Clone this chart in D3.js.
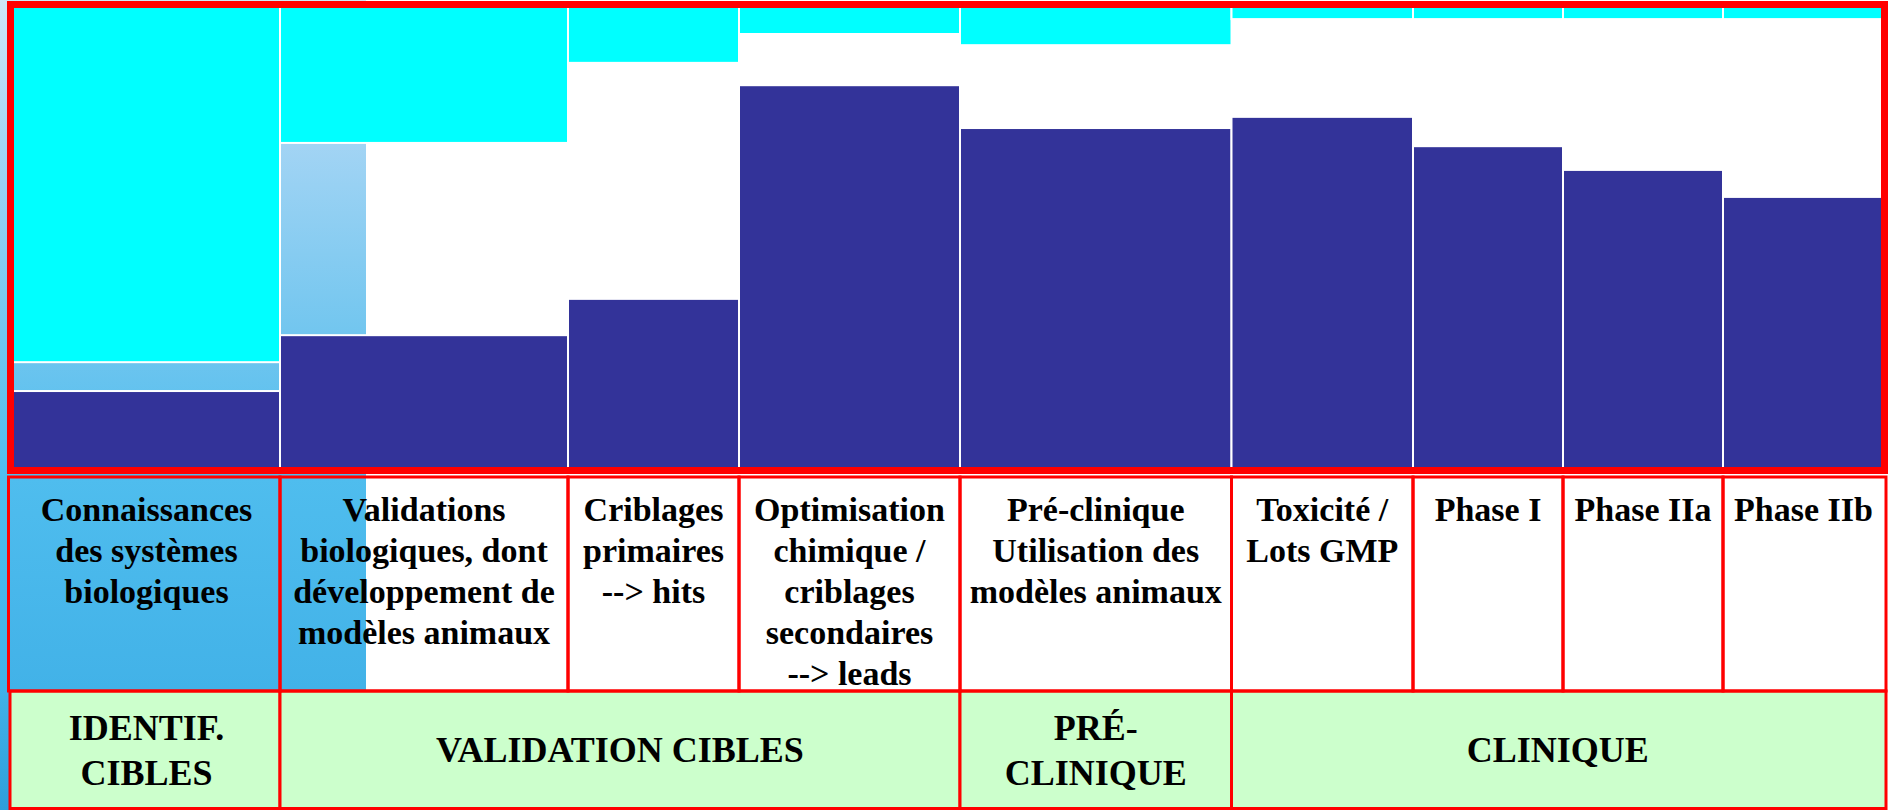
<!DOCTYPE html>
<html lang="fr">
<head>
<meta charset="utf-8">
<script src="https://cdn.jsdelivr.net/npm/d3@7"></script>
<style>
  body { margin: 0; background: #fff; }
  svg { display: block; }
  text { font-family: "Liberation Serif", "Times New Roman", serif; font-weight: bold; fill: #000; }
</style>
</head>
<body>
<script>
// Étapes du développement (libellés découpés en lignes comme sur la diapo)
const etapes = [
    ["Connaissances", "des systèmes", "biologiques"],
    ["Validations", "biologiques, dont", "développement de", "modèles animaux"],
    ["Criblages", "primaires", "--> hits"],
    ["Optimisation", "chimique /", "criblages", "secondaires", "--> leads"],
    ["Pré-clinique", "Utilisation des", "modèles animaux"],
    ["Toxicité /", "Lots GMP"],
    ["Phase I"],
    ["Phase IIa"],
    ["Phase IIb"]
];

// Largeur relative de chaque étape
const durees = [267, 288, 171, 221, 271.5, 181.5, 150, 160, 161];

// Part du bas (bleu foncé) et part du haut (cyan), en % de la hauteur
const valeursBas = [17.5, 29.5, 37.3, 83.2, 74.0, 76.4, 70.1, 65.0, 59.2];
const valeursHaut = [76.3, 29.2, 12.0, 5.8, 8.2, 2.6, 2.6, 2.6, 2.6];

// Grandes phases et nombre d'étapes couvertes
const grandesPhases = [["IDENTIF.", "CIBLES"], ["VALIDATION CIBLES"], ["PRÉ-", "CLINIQUE"], ["CLINIQUE"]];
const grandesPhasesNb = [1, 3, 1, 4];

const W = 1888, H = 810;
const plot = {left: 13, right: 1884, top: 7, bottom: 472.5};
const rowLabels = {top: 477, bottom: 691};
const rowPhases = {top: 691, bottom: 808.5};

const svg = d3.select("body").append("svg")
    .attr("width", W)
    .attr("height", H);

// fond dégradé de la diapo (bande de gauche)
const defs = svg.append("defs");
const grad = defs.append("linearGradient")
    .attr("id", "fond").attr("x1", 0).attr("y1", 0).attr("x2", 0).attr("y2", 1);
[[0, "#cfe7f8"], [0.18, "#a2d4f4"], [0.41, "#72c6ef"], [0.59, "#4fbdee"], [0.85, "#42b2e8"], [1, "#2f9fdb"]]
    .forEach(s => grad.append("stop").attr("offset", s[0]).attr("stop-color", s[1]));

svg.append("rect")
    .attr("x", 0).attr("y", 0)
    .attr("width", 366).attr("height", H)
    .attr("fill", "url(#fond)");

// Échelles
const total = d3.sum(durees);
const x = d3.scaleLinear().domain([0, total]).range([plot.left, plot.right]);
const y = d3.scaleLinear().domain([0, 100]).range([plot.bottom, plot.top]);

const cumul = d3.cumsum(durees);
const data = etapes.map((lignes, i) => ({
    lignes,
    debut: i === 0 ? 0 : cumul[i - 1],
    fin: cumul[i],
    bas: valeursBas[i],
    haut: valeursHaut[i],
    i
}));

const bars = svg.append("g");

// partie basse (bleu foncé)
bars.selectAll("rect.bas")
    .data(data)
    .join("rect")
    .attr("class", "bas")
    .attr("x", d => x(d.debut))
    .attr("width", d => x(d.fin) - x(d.debut))
    .attr("y", d => y(d.bas))
    .attr("height", d => y(0) - y(d.bas))
    .attr("fill", "#333399")
    .attr("stroke", "#fff")
    .attr("stroke-width", 2);

// partie haute (cyan), accrochée en haut
bars.selectAll("rect.haut")
    .data(data)
    .join("rect")
    .attr("class", "haut")
    .attr("x", d => x(d.debut))
    .attr("width", d => x(d.fin) - x(d.debut))
    .attr("y", y(100))
    .attr("height", d => y(100 - d.haut) - y(100))
    .attr("fill", "#00ffff")
    .attr("stroke", "#fff")
    .attr("stroke-width", 2);

// cadre rouge du graphique
svg.append("rect")
    .attr("x", plot.left - 2.5).attr("y", plot.top - 2.5)
    .attr("width", plot.right - plot.left + 3).attr("height", plot.bottom - plot.top + 0.5)
    .attr("fill", "none")
    .attr("stroke", "#ff0000")
    .attr("stroke-width", 7);

// bornes gauche/droite des lignes du tableau
const x0 = (d, i) => i === 0 ? 8.5 : x(d.debut);
const x1 = (d, i, n) => i === n - 1 ? 1886 : x(d.fin);

// Ligne des grandes phases (fond vert)
let acc = 0;
const phasesData = grandesPhases.map((lignes, k) => {
    const debut = acc === 0 ? 0 : cumul[acc - 1];
    acc += grandesPhasesNb[k];
    return {lignes, debut, fin: cumul[acc - 1]};
});

const gPhases = svg.append("g");
gPhases.selectAll("rect")
    .data(phasesData)
    .join("rect")
    .attr("x", (d, i) => i === 0 ? 10 : x(d.debut))
    .attr("width", (d, i) => x1(d, i, phasesData.length) - (i === 0 ? 10 : x(d.debut)))
    .attr("y", rowPhases.top)
    .attr("height", rowPhases.bottom - rowPhases.top)
    .attr("fill", "#ccffcc")
    .attr("stroke", "#ff0000")
    .attr("stroke-width", 3);

gPhases.selectAll("text")
    .data(phasesData)
    .join("text")
    .attr("text-anchor", "middle")
    .style("font-size", "36px")
    .each(function(d) {
        const t = d3.select(this);
        const cx = (x(d.debut) + x(d.fin)) / 2;
        const first = 762 - (d.lignes.length - 1) * 22.5;
        d.lignes.forEach((l, j) => {
            t.append("tspan").attr("x", cx).attr("y", first + j * 45).text(l);
        });
    });

// Ligne des libellés d'étapes
const gLabels = svg.append("g");
gLabels.selectAll("rect")
    .data(data)
    .join("rect")
    .attr("x", (d, i) => x0(d, i))
    .attr("width", (d, i) => x1(d, i, data.length) - x0(d, i))
    .attr("y", rowLabels.top)
    .attr("height", rowLabels.bottom - rowLabels.top)
    .attr("fill", "none")
    .attr("stroke", "#ff0000")
    .attr("stroke-width", 3);

gLabels.selectAll("text")
    .data(data)
    .join("text")
    .attr("text-anchor", "middle")
    .style("font-size", "34px")
    .each(function(d) {
        const t = d3.select(this);
        const cx = (x(d.debut) + x(d.fin)) / 2;
        d.lignes.forEach((l, j) => {
            t.append("tspan").attr("x", cx).attr("y", 521 + j * 41).text(l);
        });
    });
</script>
</body>
</html>
